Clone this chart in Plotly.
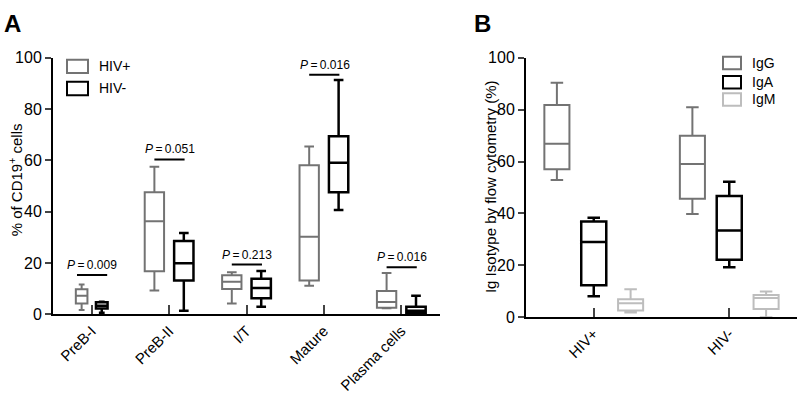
import plotly.graph_objects as go

# panel A: % of CD19+ cells, min / q1 / median / q3 / max
categories = ["PreB-I", "PreB-II", "I/T", "Mature", "Plasma cells"]

pos_low = [1.7, 9.3, 4.2, 11.2, 2.4]
pos_q1 = [4.2, 16.8, 9.9, 13.2, 2.6]
pos_med = [7.3, 36.3, 12.7, 30.3, 4.8]
pos_q3 = [9.8, 47.6, 15.3, 58.1, 9.1]
pos_up = [11.7, 57.5, 16.4, 65.4, 16.1]

neg_low = [0.6, 1.4, 3.0, 40.7, 0.5]
neg_q1 = [2.3, 13.2, 6.3, 47.6, 0.6]
neg_med = [3.4, 19.9, 10.3, 59.1, 1.4]
neg_q3 = [4.7, 28.6, 13.9, 69.4, 3.0]
neg_up = [4.9, 31.7, 16.9, 91.3, 7.3]

p_values = ["0.009", "0.051", "0.213", "0.016", "0.016"]
p_bar_y = [15.4, 60.4, 19.4, 93.4, 18.4]

# panel B: Ig isotype by flow cytometry (%)
groups_b = ["HIV+", "HIV-"]
igg_low = [52.9, 39.8]
igg_q1 = [57.0, 45.7]
igg_med = [66.9, 59.1]
igg_q3 = [81.8, 70.0]
igg_up = [90.4, 80.9]

iga_low = [8.1, 19.3]
iga_q1 = [12.3, 22.2]
iga_med = [29.0, 33.4]
iga_q3 = [36.9, 46.7]
iga_up = [38.4, 52.2]

igm_low = [1.8, 0.0]
igm_q1 = [2.6, 3.2]
igm_med = [5.4, 7.4]
igm_q3 = [6.9, 8.6]
igm_up = [10.8, 9.9]

W, H = 800, 400
GRAY = "#737373"
BLACK = "#000000"
LIGHT = "#bdbdbd"
FONT = "Liberation Sans"


def px(x):
    return x / W


def py(y):
    return 1 - y / H


def add_box(fig, xpos, lo, q1, med, q3, up, color, lw, width, xa, ya):
    fig.add_trace(go.Box(
        x=[xpos], lowerfence=[lo], q1=[q1], median=[med], q3=[q3], upperfence=[up],
        width=width, whiskerwidth=0.5, boxpoints=False,
        line=dict(color=color, width=lw), fillcolor="white",
        showlegend=False, hoverinfo="skip", xaxis=xa, yaxis=ya))


fig = go.Figure()

# panel A boxes
for i in range(len(categories)):
    w = 0.15 if i == 0 else 0.25
    off = 0.13 if i == 0 else 0.19
    add_box(fig, i - off, pos_low[i], pos_q1[i], pos_med[i], pos_q3[i], pos_up[i],
            GRAY, 2, w, "x", "y")
    add_box(fig, i + off, neg_low[i], neg_q1[i], neg_med[i], neg_q3[i], neg_up[i],
            BLACK, 2.5, w, "x", "y")

# panel B boxes
for j in range(len(groups_b)):
    add_box(fig, j - 0.272, igg_low[j], igg_q1[j], igg_med[j], igg_q3[j], igg_up[j],
            GRAY, 2, 0.185, "x2", "y2")
    add_box(fig, j, iga_low[j], iga_q1[j], iga_med[j], iga_q3[j], iga_up[j],
            BLACK, 2.5, 0.185, "x2", "y2")
    add_box(fig, j + 0.272, igm_low[j], igm_q1[j], igm_med[j], igm_q3[j], igm_up[j],
            LIGHT, 2, 0.185, "x2", "y2")

shapes = []
annotations = []

# p-value bars
for i, (p, yb) in enumerate(zip(p_values, p_bar_y)):
    shapes.append(dict(type="line", xref="x", yref="y", x0=i - 0.19, x1=i + 0.2,
                       y0=yb, y1=yb, line=dict(color="black", width=2)))
    annotations.append(dict(xref="x", yref="y", x=i + 0.01, y=yb, yshift=10,
                            text="<i>P</i>\u2009=\u2009" + p, showarrow=False,
                            font=dict(size=12)))

# manual legends
leg_a = [("HIV+", GRAY, 54), ("HIV-", BLACK, 77)]
for name, col, y0 in leg_a:
    shapes.append(dict(type="rect", xref="paper", yref="paper",
                       x0=px(67), x1=px(88), y0=py(y0), y1=py(y0 + 14),
                       line=dict(color=col, width=2), fillcolor="white"))
    annotations.append(dict(xref="paper", yref="paper", x=px(97), y=py(y0 + 7),
                            xanchor="left", yanchor="middle", text=name, showarrow=False,
                            font=dict(size=14)))

leg_b = [("IgG", GRAY, 51), ("IgA", BLACK, 71), ("IgM", LIGHT, 89)]
for name, col, y0 in leg_b:
    shapes.append(dict(type="rect", xref="paper", yref="paper",
                       x0=px(723), x1=px(741), y0=py(y0), y1=py(y0 + 13),
                       line=dict(color=col, width=2), fillcolor="white"))
    annotations.append(dict(xref="paper", yref="paper", x=px(750), y=py(y0 + 6.5),
                            xanchor="left", yanchor="middle", text=name, showarrow=False,
                            font=dict(size=14)))

# panel letters and axis titles
annotations.append(dict(xref="paper", yref="paper", x=px(2), y=py(0), xanchor="left",
                        yanchor="top", text="<b>A</b>", showarrow=False,
                        font=dict(size=24)))
annotations.append(dict(xref="paper", yref="paper", x=px(472), y=py(0), xanchor="left",
                        yanchor="top", text="<b>B</b>", showarrow=False,
                        font=dict(size=24)))
annotations.append(dict(xref="paper", yref="paper", x=px(15), y=py(180), textangle=-90,
                        xanchor="center", yanchor="middle",
                        text="% of CD19<sup>+</sup> cells", showarrow=False,
                        font=dict(size=15)))
annotations.append(dict(xref="paper", yref="paper", x=px(490), y=py(187), textangle=-90,
                        xanchor="center", yanchor="middle",
                        text="Ig Isotype by flow cytometry (%)", showarrow=False,
                        font=dict(size=15)))

yax = dict(range=[0, 100], tickvals=[0, 20, 40, 60, 80, 100], ticks="outside",
           ticklen=6, tickwidth=2, showline=True, linewidth=2, linecolor="black",
           showgrid=False, zeroline=False, tickfont=dict(size=16))
xax = dict(ticks="inside", ticklen=9, tickwidth=2, showline=True, linewidth=2,
           linecolor="black", showgrid=False, zeroline=False, tickangle=-45,
           tickfont=dict(size=15))

fig.update_layout(
    width=W, height=H, margin=dict(l=0, r=0, t=0, b=0),
    font=dict(family=FONT, size=15, color="black"),
    paper_bgcolor="white", plot_bgcolor="white", boxmode="overlay",
    showlegend=False,
    xaxis=dict(xax, domain=[px(53), px(440)], range=[-0.5, 4.5],
               tickvals=list(range(len(categories))), ticktext=categories, anchor="y"),
    yaxis=dict(yax, domain=[py(320), py(52)], anchor="x"),
    xaxis2=dict(xax, domain=[px(526), px(797)], range=[-0.5, 1.5],
                tickvals=list(range(len(groups_b))), ticktext=groups_b, anchor="y2"),
    yaxis2=dict(yax, domain=[py(323), py(52)], anchor="x2"),
    shapes=shapes, annotations=annotations,
)

fig.write_html("out.html", config={"displayModeBar": False},
               post_script="document.body.style.margin='0';"
                           "document.documentElement.style.overflow='hidden';")
